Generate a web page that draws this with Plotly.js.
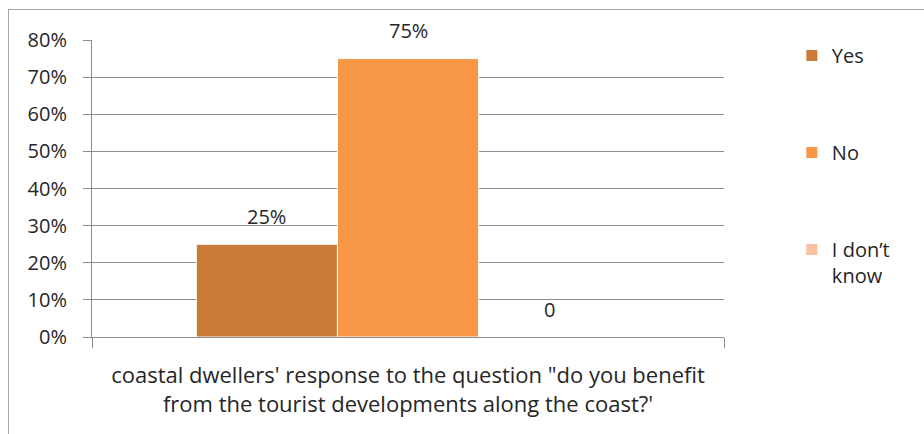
<!DOCTYPE html>
<html><head><meta charset="utf-8">
<script src="https://cdn.plot.ly/plotly-3.0.1.min.js"></script>
<style>
body{margin:0;overflow:hidden;background:#fff}
#chart{width:924px;height:434px}
#frame{position:absolute;left:8px;top:9px;width:1000px;height:1000px;border-left:1.5px solid #a6a6a6;border-top:1.5px solid #a6a6a6;pointer-events:none}
</style>
</head><body>
<div id="chart"></div><div id="frame"></div>
<script>
const category = ["Q1"];
const seriesNames = ["Yes", "No", "I don’t<br>know"];
const seriesValues = [0.25, 0.75, 0];
const valueLabels = ["25%", "75%", "0"];
const seriesColors = ["#CC7A38", "#F79646", "#FBBFA2"];
const axisTitle = "coastal dwellers' response to the question \"do you benefit<br>from the tourist developments along the coast?'";

const FONT = "'Open Sans', sans-serif";
const TXT = "#262626";
const GRID = "#8c8c8c";
const bargap = 0.33;

const traces = seriesNames.map((name, i) => ({
  type: "bar",
  name: name,
  x: category,
  y: [seriesValues[i]],
  legendgroup: "g" + i,
  marker: {color: seriesColors[i], line: {color: "#ffffff", width: 1}},
  hoverinfo: "none"
}));

const n = seriesNames.length;
const annotations = seriesValues.map((v, i) => ({
  x: (i - (n - 1) / 2) * (1 - bargap) / n,
  y: v, xref: "x", yref: "y",
  text: valueLabels[i], showarrow: false,
  yanchor: "middle", yshift: 28,
  font: {family: FONT, size: 20, color: TXT}
}));

const layout = {
  width: 924, height: 434,
  margin: {l: 92, r: 200, t: 40, b: 97},
  paper_bgcolor: "#fff", plot_bgcolor: "#fff",
  barmode: "group", bargap: bargap, bargroupgap: 0,
  showlegend: true,
  legend: {
    xref: "container", yref: "container",
    x: 0.857, xanchor: "left", y: 0.917, yanchor: "top",
    traceorder: "grouped", tracegroupgap: 68,
    valign: "top",
    maxheight: 400,
    font: {family: FONT, size: 20, color: TXT},
    bgcolor: "rgba(0,0,0,0)"
  },
  xaxis: {
    type: "category",
    showticklabels: false,
    showline: true, linecolor: GRID, linewidth: 1,
    ticks: "outside", tickson: "boundaries", ticklen: 10, tickcolor: GRID,
    showgrid: false, zeroline: false, fixedrange: true,
    title: {text: axisTitle, standoff: 30, font: {family: FONT, size: 22, color: TXT}}
  },
  yaxis: {
    range: [0, 0.8], dtick: 0.1, tickformat: ".0%",
    showline: true, linecolor: GRID, linewidth: 1,
    showgrid: true, gridcolor: GRID, gridwidth: 1,
    ticks: "outside", ticklen: 8, tickcolor: GRID,
    ticklabelstandoff: 12,
    zeroline: false, fixedrange: true,
    tickfont: {family: FONT, size: 20, color: TXT}
  },
  annotations: annotations
};

Plotly.newPlot("chart", traces, layout, {displayModeBar: false, staticPlot: true});
</script>
</body></html>
